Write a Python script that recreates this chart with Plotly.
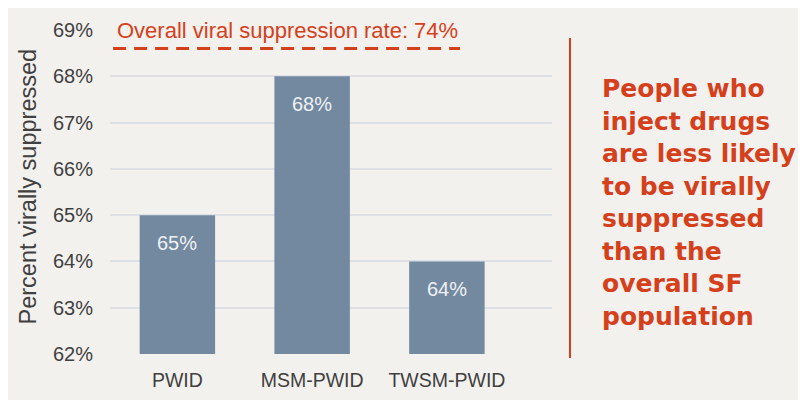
import plotly.graph_objects as go

categories = ["PWID", "MSM-PWID", "TWSM-PWID"]
values = [65, 68, 64]
value_labels = ["65%", "68%", "64%"]
tick_vals = [62, 63, 64, 65, 66, 67, 68, 69]
tick_text = ["62%", "63%", "64%", "65%", "66%", "67%", "68%", "69%"]
y_title = "Percent virally suppressed"
overall_label = "Overall viral suppression rate: 74%"
overall_line_y = 68.6
callout = "People who<br>inject drugs<br>are less likely<br>to be virally<br>suppressed<br>than the<br>overall SF<br>population"

RED = "#D5401C"
BAR = "#7389A0"
BG = "#F3F1EE"
TXT = "#404040"
FONT = "Liberation Sans, Arial"

fig = go.Figure()
fig.add_trace(go.Bar(
    x=categories, y=values,
    marker=dict(color=BAR, line=dict(width=0)),
    width=0.56, hoverinfo="skip",
))

for c, v, t in zip(categories, values, value_labels):
    fig.add_annotation(x=c, y=v, text=t, showarrow=False, yshift=-28,
                       font=dict(family=FONT, size=20, color="#EEF1F4"))

fig.add_annotation(xref="paper", yref="paper", x=0.011, y=1.0, xanchor="left", yanchor="middle",
                   text=overall_label, showarrow=False,
                   font=dict(family=FONT, size=22, color=RED))
fig.add_shape(type="line", xref="paper", yref="y", x0=0.007, x1=0.792,
              y0=overall_line_y, y1=overall_line_y,
              line=dict(color=RED, width=3, dash="13px,8px"))

fig.add_annotation(xref="paper", yref="paper", x=-0.1855, y=0.517, xanchor="center", yanchor="middle",
                   text=y_title, textangle=-90, showarrow=False,
                   font=dict(family=FONT, size=23.5, color=TXT))

fig.add_shape(type="rect", xref="paper", yref="paper", x0=-0.233, x1=1.6, y0=-0.142, y1=1.08,
              fillcolor=BG, line=dict(width=0), layer="below")
fig.add_shape(type="line", xref="paper", yref="paper", x0=1.0407, x1=1.0407, y0=-0.0123, y1=0.975,
              line=dict(color=RED, width=2))
fig.add_annotation(xref="paper", yref="paper", x=1.1086, y=0.4676, xanchor="left", yanchor="middle",
                   align="left", text=callout, showarrow=False,
                   font=dict(family="DejaVu Sans", size=25, color=RED, weight="bold"))

fig.update_layout(
    width=806, height=402,
    margin=dict(l=102, r=262, t=22, b=56, autoexpand=False),
    paper_bgcolor="white", plot_bgcolor="rgba(0,0,0,0)",
    showlegend=False,
    font=dict(family=FONT, color=TXT),
)
fig.update_xaxes(range=[-0.5, 2.78], showgrid=False, zeroline=False, showline=False, automargin=False,
                 ticks="", ticklabelstandoff=12, tickfont=dict(size=19.5, color=TXT))
fig.update_yaxes(range=[62, 69], tickvals=tick_vals, ticktext=tick_text, automargin=False,
                 showgrid=True, gridcolor="#DDE1E6", gridwidth=1.5, zeroline=False,
                 tickfont=dict(size=20, color=TXT), ticks="", ticklabelstandoff=16)

fig.write_html("out.html")
